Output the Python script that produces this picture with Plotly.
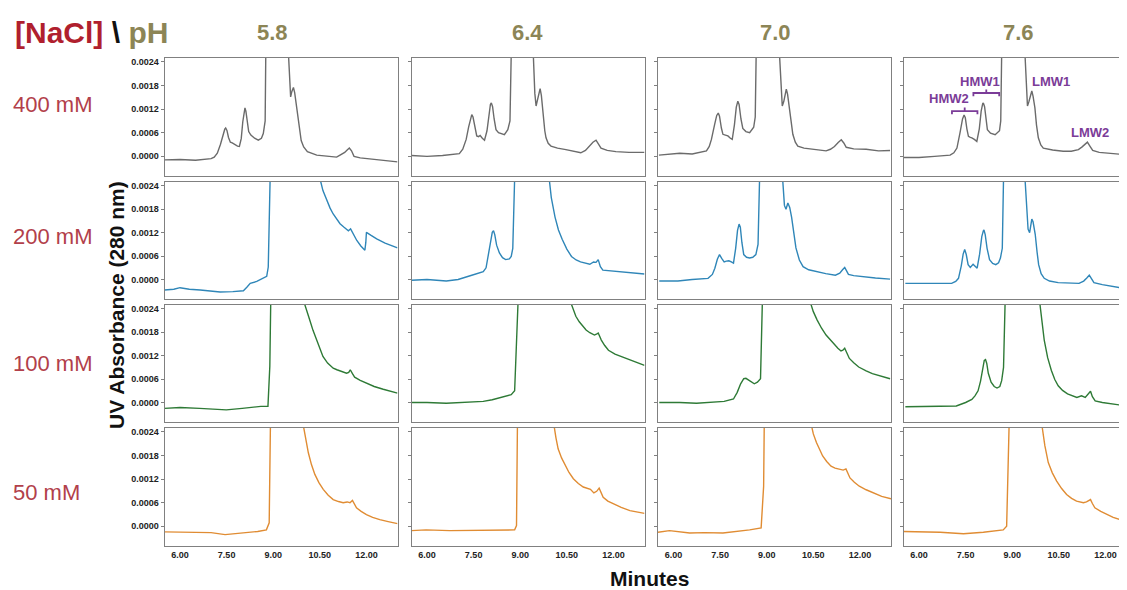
import plotly.graph_objects as go

# ---------------- data (absorbance in units of 1e-4 AU, time in minutes) ----------------
nacl_labels = ["400 mM", "200 mM", "100 mM", "50 mM"]
ph_labels = ["5.8", "6.4", "7.0", "7.6"]
x_tick_vals = [6.0, 7.5, 9.0, 10.5, 12.0]
x_tick_text = ["6.00", "7.50", "9.00", "10.50", "12.00"]
y_tick_vals = [0, 6, 12, 18, 24]
y_tick_text = ["0.0000", "0.0006", "0.0012", "0.0018", "0.0024"]
Y_UNIT = 1e-4

# 400 mM
x_400_58 = [5.5, 6.0, 6.5, 7.0, 7.1, 7.2, 7.3, 7.38, 7.44, 7.47, 7.51, 7.56, 7.62, 7.68, 7.72, 7.78, 7.85, 7.91, 7.97, 8.02, 8.06, 8.09, 8.12, 8.16, 8.21, 8.28, 8.4, 8.52, 8.62, 8.68, 8.74, 8.76, 9.12, 9.49, 9.53, 9.56, 9.6, 9.65, 9.69, 9.73, 9.78, 9.84, 9.9, 9.98, 10.1, 10.4, 10.8, 11.04, 11.15, 11.3, 11.38, 11.45, 11.52, 11.6, 11.8, 12.01, 12.5, 13.0]
y_400_58 = [-0.9, -0.8, -1.0, -0.6, -0.2, 0.8, 3.0, 5.4, 6.9, 7.2, 6.6, 4.8, 3.6, 3.4, 3.2, 3.0, 2.6, 2.5, 4.5, 8.8, 11.6, 12.3, 11.5, 8.8, 6.3, 5.4, 4.6, 4.1, 4.6, 5.8, 9.0, 26, 200, 26, 19, 15.1, 16.5, 17.5, 16.2, 14.0, 10.8, 6.8, 4.0, 2.4, 1.2, 0.3, -0.1, -0.2, 0.3, 1.0, 1.6, 2.1, 1.4, 0.0, -0.4, -0.6, -0.9, -1.4]
x_400_64 = [5.5, 6.0, 6.5, 7.04, 7.15, 7.26, 7.34, 7.40, 7.44, 7.48, 7.54, 7.60, 7.66, 7.71, 7.78, 7.85, 7.93, 7.99, 8.04, 8.07, 8.11, 8.16, 8.22, 8.3, 8.49, 8.60, 8.67, 8.71, 9.07, 9.42, 9.47, 9.51, 9.56, 9.61, 9.64, 9.68, 9.74, 9.79, 9.83, 9.9, 9.99, 10.2, 10.47, 10.95, 11.1, 11.22, 11.34, 11.44, 11.52, 11.60, 11.8, 12.08, 12.5, 13.0]
y_400_64 = [0.2, 0.0, 0.2, 0.7, 1.8, 4.3, 7.5, 9.8, 10.6, 10.0, 7.2, 5.2, 5.0, 5.3, 4.6, 4.1, 6.5, 10.5, 13.2, 13.6, 12.6, 9.5, 6.8, 6.0, 5.5, 6.8, 9, 26, 200, 26, 16, 12.8, 14.5, 16.8, 17.2, 15.5, 10.2, 6.5, 4.7, 3.3, 2.6, 2.1, 1.7, 0.9, 1.5, 2.6, 3.6, 4.1, 3.2, 2.1, 1.5, 1.2, 1.0, 1.0]
x_400_70 = [5.53, 6.2, 6.6, 7.06, 7.15, 7.22, 7.32, 7.39, 7.44, 7.48, 7.54, 7.59, 7.67, 7.75, 7.83, 7.89, 7.96, 8.02, 8.07, 8.11, 8.17, 8.23, 8.33, 8.45, 8.58, 8.63, 8.66, 9.03, 9.41, 9.46, 9.50, 9.55, 9.60, 9.63, 9.67, 9.73, 9.78, 9.84, 9.92, 10.0, 10.2, 10.48, 10.91, 11.05, 11.18, 11.3, 11.40, 11.48, 11.56, 11.8, 12.2, 12.6, 12.97]
y_400_70 = [0.3, 0.8, 0.6, 1.4, 2.5, 4.3, 8.0, 10.4, 11.0, 10.2, 7.2, 5.6, 5.4, 5.2, 4.6, 4.3, 8.0, 12.5, 14.0, 13.2, 9.5, 7.1, 6.3, 6.0, 7.4, 10, 26, 200, 26, 16.5, 12.8, 14.0, 16.5, 17.1, 15.8, 12.0, 8.0, 5.6, 3.6, 2.6, 2.1, 1.8, 1.4, 1.8, 2.5, 3.5, 4.2, 3.4, 2.3, 1.9, 1.8, 1.4, 1.5]
x_400_76 = [5.5, 6.0, 6.5, 7.0, 7.12, 7.22, 7.32, 7.40, 7.45, 7.49, 7.54, 7.59, 7.65, 7.70, 7.78, 7.86, 7.94, 8.0, 8.05, 8.07, 8.11, 8.16, 8.20, 8.3, 8.45, 8.59, 8.63, 8.66, 9.03, 9.41, 9.45, 9.49, 9.54, 9.60, 9.63, 9.67, 9.73, 9.78, 9.84, 9.92, 10.0, 10.3, 10.64, 10.9, 11.13, 11.25, 11.35, 11.42, 11.5, 11.59, 11.8, 12.1, 12.69]
y_400_76 = [-0.3, -0.3, 0.0, 0.3, 0.9, 2.1, 6.0, 9.5, 10.5, 9.8, 7.0, 5.1, 4.8, 4.7, 4.3, 3.8, 7.0, 11.5, 13.4, 13.6, 12.6, 9.2, 6.8, 5.9, 5.5, 6.5, 9, 26, 200, 26, 17, 12.8, 14.0, 16.3, 16.6, 15.3, 12.3, 8.0, 4.7, 2.9, 2.1, 1.6, 1.3, 1.3, 1.7, 2.4, 3.2, 3.6, 2.6, 1.5, 1.0, 0.8, 0.4]

# 200 mM
x_200_58 = [5.5, 5.8, 6.0, 6.3, 6.65, 7.0, 7.29, 7.7, 8.04, 8.15, 8.26, 8.47, 8.65, 8.79, 8.84, 8.90, 9.7, 10.5, 10.6, 10.72, 10.83, 10.93, 11.05, 11.15, 11.28, 11.42, 11.49, 11.56, 11.69, 11.82, 11.95, 11.98, 12.0, 12.15, 12.33, 12.6, 13.0]
y_200_58 = [-2.7, -2.5, -2.1, -2.5, -2.7, -2.9, -3.2, -3.1, -2.9, -2.0, -1.0, -0.5, 0.2, 0.8, 3.2, 26, 200, 26, 22.8, 20.2, 18.3, 16.8, 15.4, 14.3, 13.4, 12.5, 13.0, 11.8, 10.0, 8.6, 7.5, 9.5, 12.1, 11.3, 10.4, 9.3, 8.1]
x_200_64 = [5.5, 6.0, 6.62, 7.0, 7.44, 7.7, 7.81, 7.9, 7.96, 8.04, 8.1, 8.14, 8.18, 8.24, 8.33, 8.43, 8.53, 8.65, 8.71, 8.76, 8.82, 9.4, 9.93, 10.0, 10.12, 10.23, 10.35, 10.5, 10.65, 10.8, 10.94, 11.1, 11.24, 11.36, 11.44, 11.51, 11.58, 11.66, 11.9, 12.14, 12.6, 13.0]
y_200_64 = [-0.2, 0.0, -0.4, 0.0, 1.1, 1.7, 2.0, 3.0, 5.5, 9.8, 12.1, 12.5, 11.5, 8.8, 6.8, 5.6, 5.1, 5.3, 5.9, 8, 26, 200, 26, 21, 16.0, 12.7, 10.3, 7.8, 5.9, 5.0, 4.5, 4.1, 3.9, 4.5, 4.4, 5.1, 3.3, 2.4, 2.2, 2.0, 1.6, 1.4]
x_200_70 = [5.54, 6.14, 6.6, 7.11, 7.25, 7.33, 7.41, 7.48, 7.55, 7.63, 7.7, 7.78, 7.86, 7.93, 8.0, 8.06, 8.11, 8.15, 8.2, 8.26, 8.35, 8.45, 8.55, 8.65, 8.72, 8.77, 9.14, 9.51, 9.57, 9.62, 9.68, 9.74, 9.80, 9.87, 9.94, 10.05, 10.17, 10.35, 10.61, 10.9, 11.21, 11.35, 11.44, 11.51, 11.57, 11.63, 11.8, 12.1, 12.5, 12.97]
y_200_70 = [-0.4, -0.4, 0.0, 0.3, 1.3, 2.9, 5.2, 6.4, 5.4, 4.5, 4.7, 4.8, 4.5, 4.2, 8.0, 12.6, 14.2, 13.4, 9.5, 6.4, 5.7, 5.5, 5.7, 6.4, 9, 26, 200, 26, 19.0, 18.0, 19.6, 18.5, 16.0, 12.0, 8.1, 5.0, 3.3, 2.5, 2.0, 1.5, 1.1, 1.6, 2.5, 3.1, 2.2, 1.3, 1.0, 0.7, 0.4, 0.1]
x_200_76 = [5.56, 6.3, 7.05, 7.18, 7.27, 7.36, 7.42, 7.47, 7.52, 7.58, 7.65, 7.74, 7.8, 7.87, 7.95, 8.02, 8.07, 8.09, 8.13, 8.19, 8.27, 8.37, 8.47, 8.56, 8.62, 8.68, 8.72, 9.06, 9.41, 9.51, 9.56, 9.6, 9.63, 9.67, 9.74, 9.8, 9.85, 9.93, 10.03, 10.2, 10.48, 11.15, 11.3, 11.4, 11.48, 11.55, 11.63, 11.9, 12.27, 12.69]
y_200_76 = [-1.0, -1.0, -1.0, -0.5, 0.3, 3.5, 6.5, 7.7, 6.4, 3.8, 3.1, 3.9, 3.4, 2.9, 6.5, 11.0, 12.5, 12.7, 11.5, 8.0, 5.1, 4.1, 3.8, 4.3, 5.5, 8, 26, 200, 26, 12.9, 12.0, 14.0, 15.5, 14.8, 11.6, 7.0, 3.8, 1.5, 0.3, -0.4, -0.8, -1.0, -0.4, 0.4, 1.1, 0.2, -0.8, -1.3, -1.9, -2.4]

# 100 mM
x_100_58 = [5.5, 6.0, 6.63, 7.0, 7.49, 8.0, 8.35, 8.6, 8.83, 8.89, 8.92, 9.45, 9.98, 10.07, 10.17, 10.28, 10.39, 10.5, 10.6, 10.75, 10.93, 11.05, 11.2, 11.36, 11.43, 11.48, 11.55, 11.62, 11.8, 12.0, 12.25, 12.54, 12.8, 13.0]
y_100_58 = [-1.5, -1.3, -1.5, -1.6, -1.9, -1.5, -1.2, -1.0, -1.0, 9.3, 26, 200, 26, 24, 21.3, 18.5, 16.1, 13.8, 11.8, 10.1, 8.8, 8.4, 8.0, 7.5, 7.7, 8.4, 7.4, 6.5, 5.7, 5.0, 4.1, 3.4, 2.8, 2.4]
x_100_64 = [5.5, 6.0, 6.62, 7.2, 7.81, 8.1, 8.41, 8.6, 8.71, 8.82, 8.93, 9.77, 10.61, 10.7, 10.79, 10.9, 11.01, 11.12, 11.24, 11.39, 11.45, 11.51, 11.56, 11.61, 11.72, 11.84, 12.05, 12.28, 12.6, 13.0]
y_100_64 = [0.0, 0.0, -0.2, 0.0, 0.3, 0.7, 1.3, 1.7, 2.0, 3.0, 26, 200, 26, 23.8, 22.1, 20.7, 19.5, 18.6, 17.9, 17.3, 17.5, 17.8, 16.9, 16.0, 14.6, 13.4, 12.4, 11.7, 10.6, 9.5]
x_100_70 = [5.54, 6.2, 6.74, 7.2, 7.63, 7.93, 8.05, 8.16, 8.26, 8.33, 8.41, 8.5, 8.6, 8.7, 8.8, 8.86, 9.6, 10.39, 10.5, 10.62, 10.76, 10.91, 11.1, 11.29, 11.39, 11.45, 11.51, 11.58, 11.66, 11.8, 11.96, 12.2, 12.4, 12.97]
y_100_70 = [0.0, 0.0, -0.2, 0.0, 0.3, 0.9, 2.6, 4.8, 6.1, 6.2, 5.8, 5.2, 4.8, 5.2, 6.1, 26, 200, 26, 23.3, 21.2, 19.1, 17.3, 15.5, 13.9, 13.2, 13.4, 13.9, 12.5, 11.3, 10.2, 9.1, 8.1, 7.4, 6.1]
x_100_76 = [5.56, 6.4, 7.2, 7.5, 7.7, 7.8, 7.9, 7.98, 8.05, 8.1, 8.14, 8.18, 8.23, 8.32, 8.42, 8.51, 8.6, 8.66, 8.72, 8.77, 9.3, 9.88, 9.95, 10.03, 10.14, 10.26, 10.37, 10.48, 10.62, 10.78, 11.08, 11.23, 11.35, 11.45, 11.52, 11.58, 11.67, 11.9, 12.12, 12.69]
y_100_76 = [-1.1, -1.0, -0.9, 0.0, 0.8, 1.7, 3.0, 5.5, 9.0, 10.8, 11.0, 10.0, 7.5, 5.2, 4.1, 3.7, 4.1, 5.6, 9, 26, 200, 26, 21, 16.0, 11.5, 8.2, 5.9, 4.3, 3.1, 2.2, 1.3, 1.7, 1.3, 2.2, 2.9, 1.5, 0.4, 0.0, -0.3, -0.9]

# 50 mM
x_50_58 = [5.5, 6.0, 6.64, 7.0, 7.45, 8.03, 8.5, 8.78, 8.87, 8.91, 9.45, 9.96, 10.04, 10.13, 10.23, 10.34, 10.47, 10.61, 10.77, 10.93, 11.1, 11.25, 11.38, 11.47, 11.55, 11.61, 11.68, 11.83, 12.0, 12.2, 12.43, 12.7, 13.0]
y_50_58 = [-1.4, -1.5, -1.7, -1.6, -2.1, -1.7, -1.3, -0.9, 0.9, 26, 200, 26, 22, 18.7, 15.7, 13.2, 11.1, 9.4, 7.9, 6.8, 6.3, 6.0, 6.2, 6.0, 6.6, 5.6, 4.7, 3.8, 3.0, 2.3, 1.7, 1.2, 0.7]
x_50_64 = [5.5, 5.97, 6.73, 7.3, 7.8, 8.3, 8.82, 8.88, 8.91, 9.5, 10.08, 10.15, 10.22, 10.33, 10.44, 10.57, 10.71, 10.87, 11.03, 11.15, 11.26, 11.37, 11.46, 11.54, 11.6, 11.67, 11.82, 11.99, 12.25, 12.53, 12.8, 13.0]
y_50_64 = [-1.1, -0.9, -1.1, -1.0, -0.9, -1.0, -0.9, 0.2, 26, 200, 26, 22.5, 19.7, 17.4, 15.5, 13.7, 12.1, 10.9, 10.0, 9.7, 9.4, 8.5, 8.9, 9.7, 8.5, 7.4, 6.4, 5.7, 4.8, 4.0, 3.5, 3.3]
x_50_70 = [5.5, 5.87, 6.52, 7.0, 7.59, 8.1, 8.45, 8.82, 8.9, 8.92, 9.7, 10.43, 10.5, 10.6, 10.7, 10.8, 10.93, 11.07, 11.2, 11.34, 11.46, 11.55, 11.62, 11.68, 11.82, 11.98, 12.2, 12.41, 12.7, 13.0]
y_50_70 = [-1.5, -1.1, -1.7, -1.6, -1.7, -1.3, -0.9, -0.4, 10.2, 26, 200, 26, 23.5, 21.3, 19.5, 17.9, 16.5, 15.3, 14.8, 14.5, 14.3, 14.6, 13.4, 12.3, 11.2, 10.2, 9.3, 8.5, 7.6, 7.0]
x_50_76 = [5.5, 6.0, 6.68, 7.43, 8.07, 8.71, 8.82, 8.9, 9.42, 9.95, 10.05, 10.16, 10.29, 10.43, 10.59, 10.75, 10.91, 11.07, 11.18, 11.29, 11.39, 11.46, 11.52, 11.58, 11.66, 11.85, 12.04, 12.25, 12.47, 12.69]
y_50_76 = [-1.3, -1.4, -1.5, -1.9, -1.5, -0.9, 0.0, 26, 200, 26, 20.5, 16.2, 13.6, 11.5, 9.6, 8.1, 7.1, 6.4, 6.2, 6.0, 6.2, 6.5, 6.8, 5.8, 4.7, 3.8, 3.0, 2.3, 1.7, 1.3]

peak_labels = ["HMW2", "HMW1", "LMW1", "LMW2"]
peak_label_x = [6.97, 7.97, 10.25, 11.5]
peak_label_y = [14.6, 18.9, 18.9, 6.1]
bracket_x0 = [7.06, 7.75]
bracket_x1 = [7.88, 8.58]
bracket_y = [11.5, 16.1]

series = [
    [(x_400_58, y_400_58), (x_400_64, y_400_64), (x_400_70, y_400_70), (x_400_76, y_400_76)],
    [(x_200_58, y_200_58), (x_200_64, y_200_64), (x_200_70, y_200_70), (x_200_76, y_200_76)],
    [(x_100_58, y_100_58), (x_100_64, y_100_64), (x_100_70, y_100_70), (x_100_76, y_100_76)],
    [(x_50_58, y_50_58), (x_50_64, y_50_64), (x_50_70, y_50_70), (x_50_76, y_50_76)],
]
row_colors = ["#6b6b6b", "#2f86b8", "#2e7a36", "#e08c33"]

# ---------------- layout geometry (reference pixels; page body has an 8px margin) ----------------
OFF = 8
W, H = 1127 - OFF, 590 - OFF
col_px = [(164.5, 397.5), (411.5, 644.5), (658.0, 891.0), (903.5, 1127.0)]
row_px = [(58, 176), (182, 299), (305, 422), (428, 546)]
PX_PER_MIN = 233.0 / 7.5
X_START = 5.5

def fx(p):
    return (p - OFF) / W

def fy(p):
    return 1 - (p - OFF) / H

FONT = "Liberation Sans, Arial, sans-serif"
fig = go.Figure()
layout = dict(
    width=W, height=H, margin=dict(l=0, r=0, t=0, b=0),
    paper_bgcolor="white", plot_bgcolor="white", showlegend=False,
    font=dict(family=FONT),
)
tickfont = dict(family=FONT, size=9, color="#222", weight="bold")
for r in range(4):
    for c in range(4):
        k = r * 4 + c + 1
        xs, ys = series[r][c]
        fig.add_trace(go.Scatter(
            x=xs, y=[v * Y_UNIT for v in ys], mode="lines",
            line=dict(color=row_colors[r], width=1.4),
            xaxis=f"x{k}", yaxis=f"y{k}", hoverinfo="skip"))
        x0p, x1p = col_px[c]
        x_end = X_START + (x1p - x0p) / PX_PER_MIN
        y0p, y1p = row_px[r]
        layout[f"xaxis{k}"] = dict(
            domain=[fx(x0p), min(1.0, fx(x1p))], anchor=f"y{k}", range=[X_START, x_end],
            showline=True, mirror=True, linecolor="#808080", linewidth=1,
            showgrid=False, zeroline=False, ticks="",
            tickvals=x_tick_vals, ticktext=x_tick_text,
            showticklabels=(r == 3), tickfont=tickfont,
        )
        layout[f"yaxis{k}"] = dict(
            domain=[fy(y1p), fy(y0p)], anchor=f"x{k}", range=[-5 * Y_UNIT, 25 * Y_UNIT],
            showline=True, mirror=True, linecolor="#808080", linewidth=1,
            showgrid=False, zeroline=False, ticks="outside", ticklen=3, tickcolor="#808080",
            tickvals=[v * Y_UNIT for v in y_tick_vals], ticktext=y_tick_text,
            showticklabels=(c == 0), tickfont=tickfont,
        )

annotations = []
annotations.append(dict(
    xref="paper", yref="paper", x=fx(13), y=fy(33), xanchor="left", yanchor="middle",
    text="<span style='color:#b01f2e'>[NaCl]</span> <span style='color:#111'>\\</span> <span style='color:#8c8556'>pH</span>",
    showarrow=False, font=dict(size=30, weight="bold")))
ph_px = [272, 527, 775, 1018]
for lab, p in zip(ph_labels, ph_px):
    annotations.append(dict(xref="paper", yref="paper", x=fx(p), y=fy(33), xanchor="center", yanchor="middle",
                            text=lab, showarrow=False, font=dict(size=22, color="#8c8556", weight="bold")))
row_label_y = [105, 237, 363, 492]
for lab, p in zip(nacl_labels, row_label_y):
    annotations.append(dict(xref="paper", yref="paper", x=fx(11), y=fy(p), xanchor="left", yanchor="middle",
                            text=lab, showarrow=False, font=dict(size=22, color="#b2404a")))
annotations.append(dict(xref="paper", yref="paper", x=fx(116), y=fy(305), xanchor="center", yanchor="middle",
                        text="UV Absorbance (280 nm)", textangle=-90, showarrow=False,
                        font=dict(size=21, color="#111", weight="bold")))
annotations.append(dict(xref="paper", yref="paper", x=fx(649), y=fy(578), xanchor="center", yanchor="middle",
                        text="Minutes", showarrow=False, font=dict(size=21, color="#111", weight="bold")))
for lab, lx, ly in zip(peak_labels, peak_label_x, peak_label_y):
    annotations.append(dict(xref="x4", yref="y4", x=lx, y=ly * Y_UNIT, xanchor="center", yanchor="middle",
                            text=lab, showarrow=False, font=dict(size=13, color="#7b3c98", weight="bold")))
shapes = []
for bx0, bx1, by in zip(bracket_x0, bracket_x1, bracket_y):
    bxc = (bx0 + bx1) / 2
    yb = by * Y_UNIT
    ye = (by - 0.8) * Y_UNIT
    yt = (by + 0.9) * Y_UNIT
    path = f"M {bx0},{ye} L {bx0},{yb} L {bx1},{yb} L {bx1},{ye} M {bxc},{yb} L {bxc},{yt}"
    shapes.append(dict(type="path", xref="x4", yref="y4", path=path,
                       line=dict(color="#7b3c98", width=1.8)))

layout["annotations"] = annotations
layout["shapes"] = shapes
fig.update_layout(**layout)
fig.write_html("out.html")
